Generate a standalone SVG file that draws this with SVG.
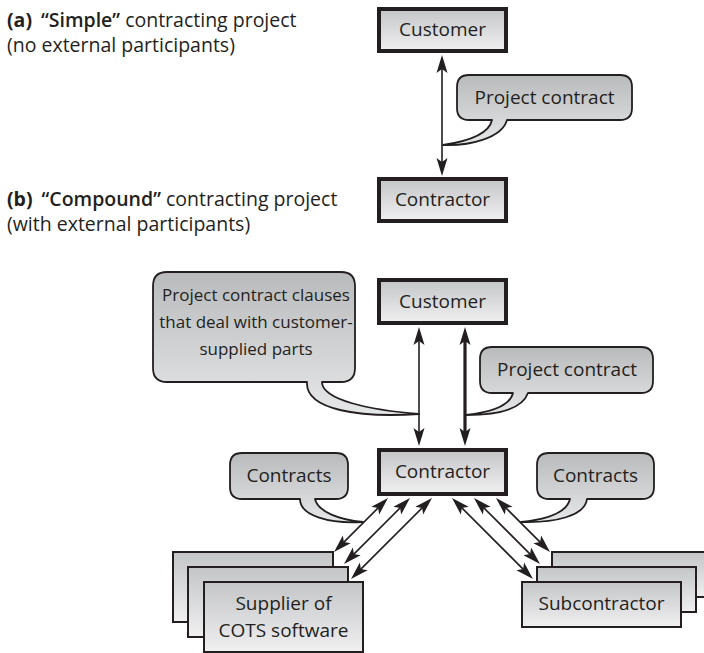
<svg xmlns="http://www.w3.org/2000/svg" width="704" height="653" viewBox="0 0 704 653">
<style>
text{font-family:"Open Sans","Noto Sans","DejaVu Sans",sans-serif;fill:#231f20}
.lbl{font-size:19px;text-anchor:middle}
.sm{font-size:17px;text-anchor:middle}
.ttl{font-size:19.5px}
.b{font-weight:700}
.sb{font-weight:600}
.main{fill:url(#gBox);stroke:#231f20;stroke-width:4}
.stk{fill:url(#gBox);stroke:#231f20;stroke-width:2}
.call{fill:url(#gCall);stroke:#231f20;stroke-width:1.8;stroke-linejoin:round}
.ln{stroke:#231f20;stroke-width:1.6;fill:none;marker-start:url(#ah);marker-end:url(#ah)}
.thk{stroke-width:3.2}
</style>
<defs>
<linearGradient id="gBox" x1="0" y1="0" x2="0" y2="1">
<stop offset="0" stop-color="#c4c5c7"/><stop offset="1" stop-color="#f0f0f1"/>
</linearGradient>
<linearGradient id="gCall" x1="0" y1="0" x2="0" y2="1">
<stop offset="0" stop-color="#b9babc"/><stop offset="1" stop-color="#e6e7e8"/>
</linearGradient>
<marker id="ah" markerUnits="userSpaceOnUse" markerWidth="20" markerHeight="14" viewBox="0 -7 20 14" refX="4" refY="0" orient="auto-start-reverse">
<path d="M18,0 L0,-5.5 L4,0 L0,5.5 Z" fill="#231f20"/>
</marker>
</defs>

<g id="titles">
<text class="ttl" x="7" y="27"><tspan class="b">(a)</tspan><tspan class="sb" dx="9">“Simple”</tspan> contracting project</text>
<text class="ttl" x="7" y="52">(no external participants)</text>
<text class="ttl" x="7" y="206"><tspan class="b">(b)</tspan><tspan class="sb" dx="9">“Compound”</tspan> contracting project</text>
<text class="ttl" x="7" y="231">(with external participants)</text>
</g>

<g id="a-customer"><rect class="main" x="379" y="9" width="127" height="42"/><text class="lbl" x="442.5" y="36">Customer</text></g>
<g id="a-contractor"><rect class="main" x="379" y="179" width="127" height="42"/><text class="lbl" x="442.5" y="206">Contractor</text></g>
<g id="a-callout"><path class="call" d="M469,75 H620 Q632,75 632,87 V108 Q632,120 620,120 H507 C502,138 470,146 443,145 C470,141 489,134 492,120 H469 Q457,120 457,108 V87 Q457,75 469,75 Z"/><text class="lbl" x="544.5" y="104">Project contract</text></g>

<g id="b-customer"><rect class="main" x="379" y="280" width="127" height="43"/><text class="lbl" x="442.5" y="308">Customer</text></g>
<g id="b-contractor"><rect class="main" x="379" y="450" width="127" height="44"/><text class="lbl" x="442.5" y="478">Contractor</text></g>

<g id="b-callout-clauses"><path class="call" d="M167,272 H341 Q355,272 355,286 V368 Q355,382 341,382 H322 C322,400 370,410 419,414 C360,418 305,410 307,382 H167 Q153,382 153,368 V286 Q153,272 167,272 Z"/>
<text class="sm" x="256" y="301">Project contract clauses</text>
<text class="sm" x="256" y="328">that deal with customer-</text>
<text class="sm" x="256" y="355">supplied parts</text></g>
<g id="b-callout-contract"><path class="call" d="M492,347 H641 Q653,347 653,359 V381 Q653,393 641,393 H528 C522,410 495,415 466,415 C495,412 510,405 513,393 H492 Q480,393 480,381 V359 Q480,347 492,347 Z"/><text class="lbl" x="567" y="376">Project contract</text></g>
<g id="b-callout-contracts-left"><path class="call" d="M242,453 H336 Q348,453 348,465 V487 Q348,499 336,499 H315 C318,512 340,520 363,522 C330,524 300,516 300,499 H242 Q230,499 230,487 V465 Q230,453 242,453 Z"/><text class="lbl" x="289" y="482">Contracts</text></g>
<g id="b-callout-contracts-right"><path class="call" d="M549,453 H642 Q654,453 654,465 V487 Q654,499 642,499 H587 C585,516 555,523 521,522 C550,519 567,512 570,499 H549 Q537,499 537,487 V465 Q537,453 549,453 Z"/><text class="lbl" x="595.5" y="482">Contracts</text></g>

<g id="b-supplier">
<rect class="stk" x="173" y="552" width="160" height="70"/>
<rect class="stk" x="188" y="567" width="160" height="70"/>
<rect class="stk" x="204" y="582" width="159" height="70"/>
<text class="lbl" x="283.5" y="610">Supplier of</text>
<text class="lbl" x="283.5" y="637">COTS software</text>
</g>
<g id="b-subcontractor">
<rect class="stk" x="552" y="552" width="159" height="45"/>
<rect class="stk" x="537" y="567" width="159" height="45"/>
<rect class="stk" x="522" y="582" width="159" height="45"/>
<text class="lbl" x="601.5" y="610">Subcontractor</text>
</g>

<g id="connectors">
<line class="ln" x1="442" y1="69" x2="442" y2="162"/>
<line class="ln" x1="419" y1="341" x2="419" y2="432"/>
<line class="ln thk" x1="465" y1="341" x2="465" y2="432"/>
<line class="ln" x1="378.1" y1="507.9" x2="343.9" y2="542.1"/>
<line class="ln" x1="400.1" y1="507.9" x2="353.9" y2="554.1"/>
<line class="ln" x1="422.1" y1="507.9" x2="360.9" y2="569.1"/>
<line class="ln" x1="461.9" y1="507.9" x2="523.1" y2="569.1"/>
<line class="ln" x1="483.9" y1="507.9" x2="530.1" y2="554.1"/>
<line class="ln" x1="505.9" y1="507.9" x2="540.1" y2="542.1"/>
</g>
</svg>
